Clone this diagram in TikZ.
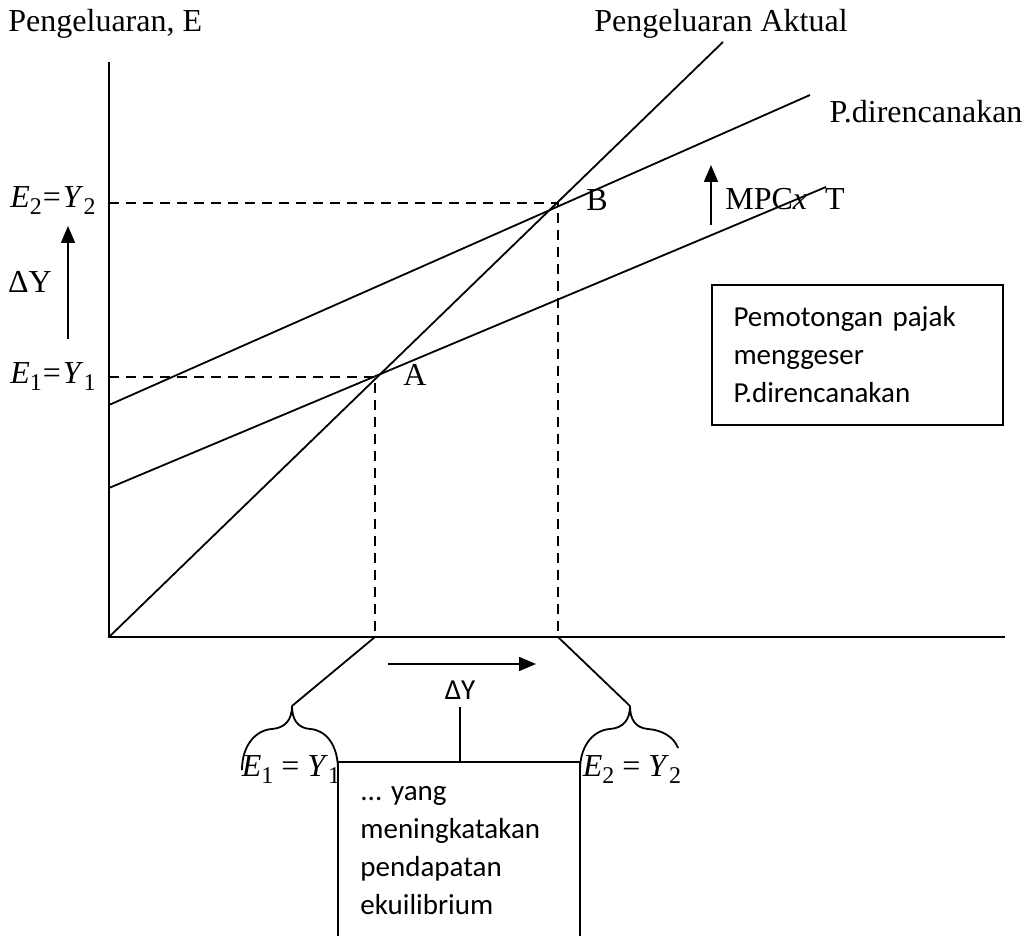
\documentclass[tikz,border=0pt]{standalone}
\usepackage{fontspec}
\setmainfont{Liberation Serif}
\newfontfamily\calibrifont{Carlito}
\usetikzlibrary{arrows.meta}
\newcommand\myidx[1]{\raisebox{-3.5pt}{\fontsize{12}{12}\selectfont #1}}
\newcommand\eqlab[1]{\textit{E}\myidx{#1}\kern0.5pt=\kern1pt\textit{Y}\myidx{#1}}
\newcommand\eqlabw[1]{\textit{E}\myidx{#1}\kern4pt=\kern4pt\textit{Y}\myidx{#1}}
\begin{document}
\begin{tikzpicture}[x=0.5pt,y=-0.5pt,
  ln/.style={line width=0.9pt},
  dsh/.style={line width=1pt,dash pattern=on 5pt off 3.5pt},
  arr/.style={line width=0.9pt,-{Triangle[length=8.5pt,width=7pt]}},
  lab/.style={inner sep=0pt,font=\fontsize{16}{19}\selectfont},
  cal/.style={inner sep=0pt,font=\calibrifont\fontsize{14.5}{19}\selectfont},
  brace/.style={line width=0.9pt}]
\useasboundingbox (0,0) rectangle (1030,936);
% points
\coordinate (O) at (109,637);
\coordinate (Ytop) at (109,62);
\coordinate (Xend) at (1005,637);
\coordinate (A) at (375,377);
\coordinate (B) at (558,203);
\coordinate (Ax) at (375,637);
\coordinate (Bx) at (558,637);
\coordinate (Ay) at (109,377);
\coordinate (By) at (109,203);
\coordinate (actEnd) at (723,42);
\coordinate (loStart) at (109,488);
\coordinate (loEnd) at (826,187);
\coordinate (upStart) at (109,405);
\coordinate (upEnd) at (810,95);
% axes
\draw[ln] (Ytop) -- (O) -- (Xend);
% lines
\draw[ln] (O) -- (actEnd);
\draw[ln] (loStart) -- (loEnd);
\draw[ln] (upStart) -- (upEnd);
% dashed
\draw[dsh] (Ay) -- (A) -- (Ax);
\draw[dsh] (By) -- (B) -- (Bx);
% labels top
\node[lab,anchor=west] (ylab) at (8,24) {Pengeluaran, E};
\node[lab] (actlab) at (721,24) {Pengeluaran Aktual};
\node[lab] (planlab) at (926,112) {P.direncanakan};
\node[lab] (Blab) at (597,200) {B};
\node[lab] (Alab) at (415,375) {A};
\node[lab,anchor=west] (mpclab) at (725,199) {MPC\textit{x}\hspace{9pt}T};
\coordinate (mpcS) at (711,225);
\coordinate (mpcT) at (711,165);
\draw[arr] (mpcS) -- (mpcT);
% left labels
\node[lab,anchor=west] (e2) at (10,201) {\eqlab{2}};
\node[lab,anchor=west] (e1) at (10,377) {\eqlab{1}};
\node[lab] (dyl) at (30,282) {ΔY};
\coordinate (lS) at (68,339);
\coordinate (lT) at (68,226);
\draw[arr] (lS) -- (lT);
% right box
\node[draw,line width=0.9pt,minimum width=145.5pt,minimum height=70pt,
      text width=124pt,inner xsep=10.5pt,align=left,
      font=\calibrifont\fontsize{14.5}{19}\selectfont] (pbox) at (857.5,355)
  {Pemotongan pajak\\menggeser\\P.direncanakan};
% bottom arrow
\coordinate (bS) at (388,664);
\coordinate (bT) at (536,664);
\draw[arr] (bS) -- (bT);
\node[cal] (dyb) at (460,690) {ΔY};
\coordinate (vTop) at (460,707);
\coordinate (vBot) at (460,762);
\draw[ln] (vTop) -- (vBot);
% connectors to braces
\coordinate (t1) at (292,706);
\coordinate (t2) at (630,706);
\draw[ln] (Ax) -- (t1);
\draw[ln] (Bx) -- (t2);
% braces
\draw[brace] (242,770) .. controls (242,745) and (256,730) .. (272,729)
  .. controls (285,728) and (292,720) .. (t1);
\draw[brace] (t1) .. controls (292,720) and (298,728) .. (310,729)
  .. controls (326,730) and (338,745) .. (338,770);
\draw[brace] (580,770) .. controls (580,745) and (594,730) .. (610,729)
  .. controls (623,728) and (630,720) .. (t2);
\draw[brace] (t2) .. controls (630,720) and (636,728) .. (648,729)
  .. controls (662,730) and (674,737) .. (678,748);
\node[lab] (be1) at (291,770) {\eqlabw{1}};
\node[lab] (be2) at (632,770) {\eqlabw{2}};
% bottom box
\coordinate (bb1) at (338,762);
\coordinate (bb2) at (580,762);
\coordinate (bb3) at (580,936);
\coordinate (bb4) at (338,936);
\draw[ln] (bb4) -- (338,770) -- (bb1) -- (bb2) -- (580,770) -- (bb3);
\node[cal,anchor=north west,align=left] (ybox) at (360,786)
  {... yang\\meningkatakan\\pendapatan\\ekuilibrium};
\end{tikzpicture}
\end{document}
